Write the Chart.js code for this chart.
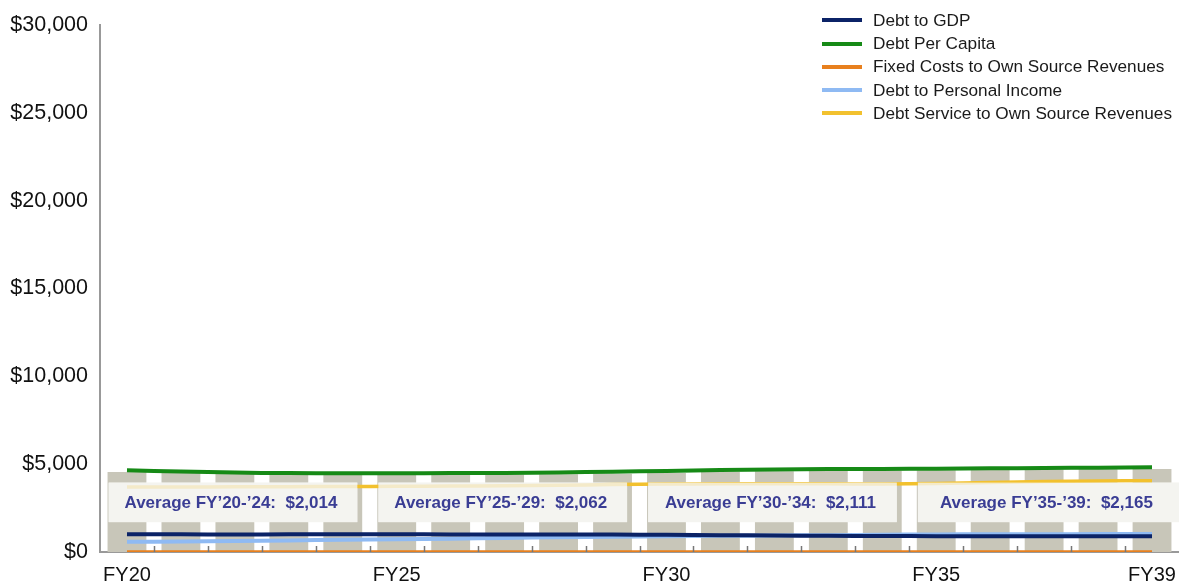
<!DOCTYPE html>
<html>
<head>
<meta charset="utf-8">
<script src="https://cdn.jsdelivr.net/npm/chart.js@4.4.1/dist/chart.umd.min.js"></script>
<style>
  html, body { margin: 0; padding: 0; background: #fff; overflow: hidden; }
  #wrap { position: relative; width: 1179px; height: 584px; }
  #legend { position: absolute; left: 822px; top: 9px; font-family: "Liberation Sans", Arial, sans-serif; font-size: 17.2px; color: #1a1a1a; }
  #legend div { height: 23.2px; line-height: 23.2px; white-space: nowrap; }
  #legend span.sw { display: inline-block; width: 40px; height: 4px; vertical-align: middle; margin-right: 11px; position: relative; top: -1px; }
</style>
</head>
<body>
<div id="wrap">
  <canvas id="canvas" width="1179" height="584"></canvas>
  <div id="legend"></div>
</div>
<script>
var years = ['FY20','FY21','FY22','FY23','FY24','FY25','FY26','FY27','FY28','FY29',
             'FY30','FY31','FY32','FY33','FY34','FY35','FY36','FY37','FY38','FY39'];
var shownYears = ['FY20','FY25','FY30','FY35','FY39'];

var debtToGdp = [1010,1005,1000,1005,1010,1010,1000,995,990,990,980,960,940,920,910,900,900,900,900,890];
var debtPerCapita = [4650,4580,4520,4490,4480,4480,4490,4500,4530,4570,4610,4660,4700,4720,4730,4740,4760,4780,4800,4820];
var fixedCosts = [0,0,0,0,0,0,0,0,0,0,0,0,0,0,0,0,0,0,0,0];
var debtToIncome = [580,600,630,660,700,730,760,800,840,870,900,920,940,960,980,1000,1010,1010,1020,1020];
var debtService = [3700,3700,3710,3720,3730,3740,3750,3770,3800,3840,3870,3880,3880,3880,3870,3900,3960,4010,4040,4060];
var backBars = [4560,4500,4440,4410,4400,4400,4400,4400,4420,4450,4500,4550,4600,4630,4640,4650,4670,4690,4710,4730];

var groups = [['FY20','FY24'],['FY25','FY29'],['FY30','FY34'],['FY35','FY39']];
var groupLabels = ['Average FY\u201920-\u201924:', 'Average FY\u201925-\u201929:', 'Average FY\u201930-\u201934:', 'Average FY\u201935-\u201939:'];
var groupAverages = [2014, 2062, 2111, 2165];

var boxTop = 3950, boxBottom = 1700;

function money(v) { return '$' + v.toLocaleString('en-US'); }

// boxes with averages, drawn over the yellow line
var boxPlugin = {
    id: 'avgBoxes',
    afterDatasetDraw: function(chart, args) {
        var ds = chart.data.datasets[args.index];
        if (ds.boxLayer === undefined) return;
        var ctx = chart.ctx;
        var x = chart.scales.x, y = chart.scales.y;
        var w = x.getPixelForValue(1) - x.getPixelForValue(0);
        var top = y.getPixelForValue(boxTop), bot = y.getPixelForValue(boxBottom);
        ctx.save();
        for (var i = 0; i < groups.length; i++) {
            var l = x.getPixelForValue(years.indexOf(groups[i][0])) - 0.34 * w;
            var r = (i == groups.length - 1) ? chart.chartArea.right : x.getPixelForValue(years.indexOf(groups[i][1])) + 0.27 * w;
            if (ds.boxLayer == 0) {
                ctx.fillStyle = '#f4f4f0';
                ctx.fillRect(l, top, r - l, bot - top);
            } else {
                ctx.fillStyle = 'rgba(244,244,240,0.8)';
                ctx.fillRect(l, top, r - l, bot - top);
                ctx.fillStyle = '#3a3d94';
                ctx.font = 'bold 17px "Liberation Sans", Arial, sans-serif';
                ctx.textAlign = 'center';
                ctx.textBaseline = 'middle';
                ctx.fillText(groupLabels[i] + '  ' + money(groupAverages[i]), (l + r) / 2 - 2, (top + bot) / 2 + 1);
            }
        }
        ctx.restore();
    },
    afterDraw: function(chart) {
        // small tick marks pointing up between years
        var ctx = chart.ctx, x = chart.scales.x;
        var b = chart.chartArea.bottom;
        ctx.save();
        ctx.strokeStyle = '#777';
        ctx.lineWidth = 1.5;
        for (var i = 1; i < years.length; i++) {
            var px = Math.round((x.getPixelForValue(i - 1) + x.getPixelForValue(i)) / 2) + 0.5;
            ctx.beginPath();
            ctx.moveTo(px, b - 6);
            ctx.lineTo(px, b);
            ctx.stroke();
        }
        ctx.restore();
    }
};

function lineSet(label, data, color, width) {
    return {
        type: 'line', label: label, data: data,
        borderColor: color, backgroundColor: color,
        borderWidth: width, pointRadius: 0, tension: 0.3, fill: false, order: 1
    };
}

var yellow = lineSet('Debt Service to Own Source Revenues', debtService, '#f2c12e', 3.5);
yellow.order = 5;
yellow.boxLayer = 1;

var dataSets = [
    lineSet('Debt to GDP', debtToGdp, '#0b2367', 4),
    lineSet('Debt Per Capita', debtPerCapita, '#168a16', 4),
    lineSet('Fixed Costs to Own Source Revenues', fixedCosts, '#e8801e', 3.5),
    lineSet('Debt to Personal Income', debtToIncome, '#8fbaf3', 4),
    yellow,
    {
        type: 'bar', label: 'bars', data: backBars,
        backgroundColor: '#c8c6b9', borderWidth: 0,
        barPercentage: 0.72, categoryPercentage: 1, order: 10, boxLayer: 0
    }
];

// legend as html
var legend = document.getElementById('legend');
dataSets.forEach(function(d) {
    if (d.type != 'line') return;
    var row = document.createElement('div');
    row.innerHTML = '<span class="sw" style="background:' + d.borderColor + '"></span>' + d.label;
    legend.appendChild(row);
});

var ctx = document.getElementById('canvas').getContext('2d');
var myChart = new Chart(ctx, {
    type: 'bar',
    data: { labels: years, datasets: dataSets },
    options: {
        responsive: false,
        animation: false,
        layout: { padding: { top: 21, right: 0, left: 0, bottom: 0 } },
        plugins: { legend: { display: false }, tooltip: { enabled: false } },
        scales: {
            x: {
                offset: true,
                grid: { display: false, drawTicks: true, tickLength: 11 },
                border: { display: true, color: '#999', width: 2 },
                ticks: {
                    autoSkip: false, maxRotation: 0, padding: 0,
                    color: '#111',
                    font: { family: '"Liberation Sans", Arial, sans-serif', size: 20 },
                    callback: function(v) { var l = years[v]; return shownYears.indexOf(l) >= 0 ? l : ''; }
                },
                afterFit: function(s) { s.height = 32; }
            },
            y: {
                min: 0, max: 30000,
                grid: { display: false, drawTicks: false },
                border: { display: true, color: '#999', width: 2 },
                ticks: {
                    stepSize: 5000, padding: 12, color: '#111',
                    font: { family: '"Liberation Sans", Arial, sans-serif', size: 21.5 },
                    callback: function(v) { return money(v); }
                },
                afterFit: function(s) { s.width = 100; }
            }
        }
    },
    plugins: [boxPlugin]
});
</script>
</body>
</html>
